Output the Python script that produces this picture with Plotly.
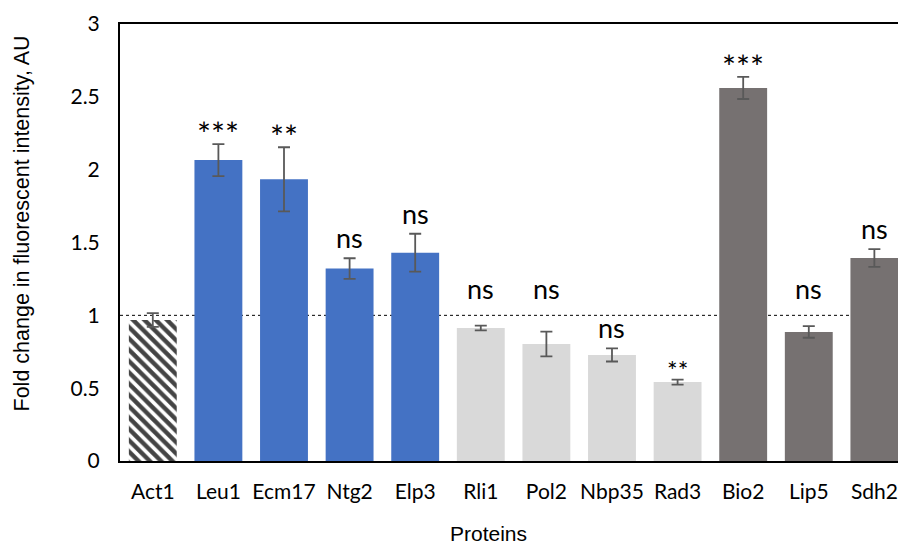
import plotly.graph_objects as go

# Fold change per protein, with SEM and significance marks
proteins = ["Act1", "Leu1", "Ecm17", "Ntg2", "Elp3", "Rli1", "Pol2",
            "Nbp35", "Rad3", "Bio2", "Lip5", "Sdh2"]
fold_change = [0.968, 2.066, 1.934, 1.321, 1.430, 0.913, 0.803,
               0.728, 0.542, 2.561, 0.886, 1.394]
error = [0.047, 0.110, 0.220, 0.071, 0.130, 0.016, 0.085,
         0.045, 0.017, 0.076, 0.040, 0.061]
significance = ["", "***", "**", "ns", "ns", "ns", "ns",
                "ns", "**", "***", "ns", "ns"]
group = ["control", "blue", "blue", "blue", "blue", "light", "light",
         "light", "light", "dark", "dark", "dark"]

colors = {"control": "white", "blue": "#4472C4",
          "light": "#D9D9D9", "dark": "#767171"}

CAT_FONT = "Lato, Carlito, Calibri, sans-serif"
ARIAL = "Liberation Sans, Arial, sans-serif"

fig = go.Figure()
fig.add_trace(go.Bar(
    x=proteins,
    y=fold_change,
    marker=dict(
        color=[colors[g] for g in group],
        line=dict(width=0),
        pattern=dict(
            shape=["\\" if g == "control" else "" for g in group],
            fgcolor="black",
            bgcolor="white",
            fgopacity=1,
            size=8,
            solidity=0.55,
        ),
    ),
    error_y=dict(type="data", array=error, visible=True,
                 color="#595959", thickness=1.8, width=6),
    hoverinfo="skip",
))

# Reference line at fold change = 1
fig.add_shape(type="line", xref="paper", yref="y", x0=0, x1=1, y0=1, y1=1,
              line=dict(color="black", width=1, dash="dot"), layer="below")

# Significance labels above the error bars (lifted clear of the reference line)
label_style = {
    "ns": dict(size=27, shift=2),
    "***": dict(size=33, shift=-11),
    "**": dict(size=33, shift=-11),
}
for name, v, e, s in zip(proteins, fold_change, error, significance):
    if not s:
        continue
    st = dict(label_style[s])
    top = v + e
    if name == "Rad3":
        st["size"] = 25
        st["shift"] = -7
    if top < 1 and top + 0.2 > 1:
        top = 1.0
        st["shift"] = 8
    fig.add_annotation(x=name, y=top, text=s, showarrow=False,
                       yanchor="bottom", yshift=st["shift"],
                       font=dict(family=CAT_FONT, size=st["size"], color="black"))

# Axis titles
fig.add_annotation(text="Proteins", xref="paper", yref="paper",
                   x=0.474, y=0, yshift=-86, yanchor="bottom", showarrow=False,
                   font=dict(family=ARIAL, size=21, color="black"))
fig.add_annotation(text="Fold change in fluorescent intensity, AU",
                   xref="paper", yref="paper", x=0, xshift=-98, y=0.5435,
                   xanchor="center", yanchor="middle", textangle=-90,
                   showarrow=False,
                   font=dict(family=ARIAL, size=21.5, color="black"))

fig.update_layout(
    width=898, height=547,
    margin=dict(l=120, r=0, t=24, b=86),
    paper_bgcolor="white", plot_bgcolor="white",
    bargap=0.27,
    showlegend=False,
    xaxis=dict(
        range=[-0.5, 11.36],
        showline=True, linecolor="black", linewidth=2, mirror=True,
        ticks="", showgrid=False,
        tickfont=dict(family=CAT_FONT, size=21, color="black"),
        ticklabelstandoff=11,
    ),
    yaxis=dict(
        range=[0, 3], dtick=0.5, tickformat="~g",
        showline=True, linecolor="black", linewidth=2,
        ticks="", showgrid=False, zeroline=False,
        tickfont=dict(family=CAT_FONT, size=21, color="black"),
        ticklabelstandoff=14,
    ),
)

fig.write_html("out.html")
